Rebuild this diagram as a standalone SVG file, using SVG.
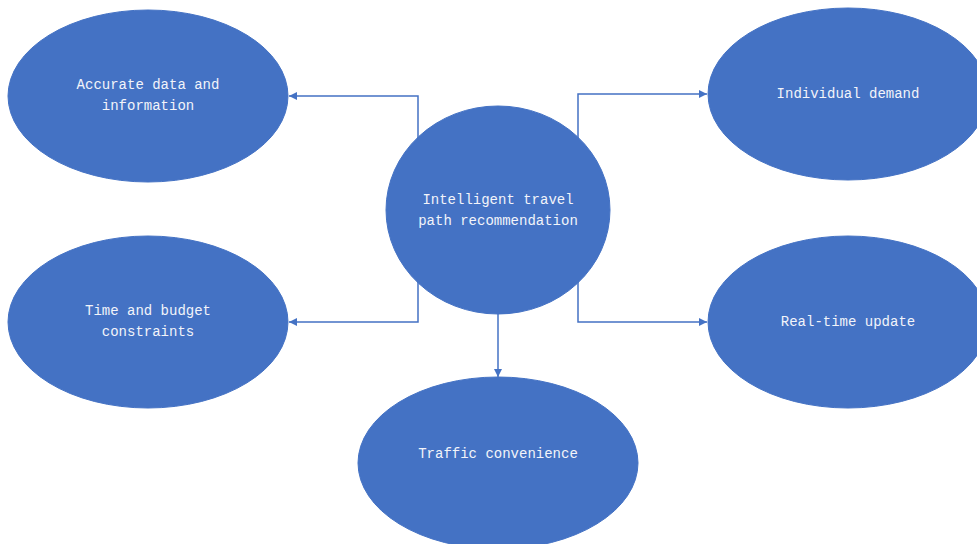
<svg xmlns="http://www.w3.org/2000/svg" width="977" height="544" viewBox="0 0 977 544">
<defs>
<style>
.n{fill:#4472C4;stroke:#4472C4;stroke-width:1}
.t{font-family:"Liberation Mono","DejaVu Sans Mono",monospace;font-size:14px;fill:#f2f4fa;text-anchor:middle;dominant-baseline:central}
.c{fill:none;stroke:#4472C4;stroke-width:1.5}
</style>
<marker id="a" viewBox="0 0 10 10" refX="10" refY="5" markerWidth="8" markerHeight="8" markerUnits="userSpaceOnUse" orient="auto">
<path d="M0,0 L10,5 L0,10 z" fill="#4472C4"/>
</marker>
</defs>
<rect width="977" height="544" fill="#fff"/>
<g id="connectors">
<path class="c" d="M418,150 V96 H289" marker-end="url(#a)"/>
<path class="c" d="M578,150 V94 H707" marker-end="url(#a)"/>
<path class="c" d="M418,270 V322 H289" marker-end="url(#a)"/>
<path class="c" d="M578,270 V322 H707" marker-end="url(#a)"/>
<path class="c" d="M498,300 V377" marker-end="url(#a)"/>
</g>
<g id="center">
<ellipse class="n" cx="498" cy="210" rx="112" ry="104"/>
<text class="t" x="498" y="200">Intelligent travel</text>
<text class="t" x="498" y="221">path recommendation</text>
</g>
<g id="accurate">
<ellipse class="n" cx="148" cy="96" rx="140" ry="86"/>
<text class="t" x="148" y="85">Accurate data and</text>
<text class="t" x="148" y="106">information</text>
</g>
<g id="individual">
<ellipse class="n" cx="848" cy="94" rx="140" ry="86"/>
<text class="t" x="848" y="94">Individual demand</text>
</g>
<g id="time">
<ellipse class="n" cx="148" cy="322" rx="140" ry="86"/>
<text class="t" x="148" y="311">Time and budget</text>
<text class="t" x="148" y="332">constraints</text>
</g>
<g id="realtime">
<ellipse class="n" cx="848" cy="322" rx="140" ry="86"/>
<text class="t" x="848" y="322">Real-time update</text>
</g>
<g id="traffic">
<ellipse class="n" cx="498" cy="463" rx="140" ry="86"/>
<text class="t" x="498" y="454">Traffic convenience</text>
</g>
</svg>
